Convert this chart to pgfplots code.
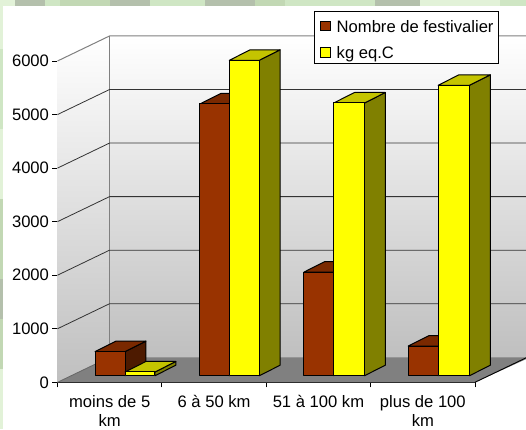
\documentclass[border=0pt]{standalone}
\usepackage{pgfplots}
\pgfplotsset{compat=1.18}
\usepackage{fontspec}
\setmainfont{Liberation Sans}
\definecolor{brownF}{HTML}{993300}
\definecolor{brownT}{HTML}{7A2900}
\definecolor{brownS}{HTML}{4D1A00}
\definecolor{yelF}{HTML}{FFFF00}
\definecolor{yelT}{HTML}{C4C400}
\definecolor{yelS}{HTML}{808000}
\definecolor{bgG}{HTML}{CFE6C4}
\definecolor{bgP}{HTML}{E2F2D8}
\definecolor{bgD}{HTML}{B4C0AC}
\definecolor{bgM}{HTML}{C2D8B4}
\def\bdx{0.2}
\def\bdy{196}
\def\bbase{123}
\newcommand{\threedbar}[6]{%
  \addplot[draw=black,line width=1pt,fill=#5,line join=round,forget plot] coordinates {(#2,\bbase) (#2+\bdx,\bbase+\bdy) (#2+\bdx,\bbase+#3+\bdy) (#2,\bbase+#3)} --cycle;
  \addplot[draw=black,line width=1pt,fill=#6,line join=round,forget plot] coordinates {(#1,\bbase+#3) (#1+\bdx,\bbase+#3+\bdy) (#2+\bdx,\bbase+#3+\bdy) (#2,\bbase+#3)} --cycle;
  \addplot[draw=black,line width=1pt,fill=#4,line join=round,forget plot] coordinates {(#1,\bbase) (#2,\bbase) (#2,\bbase+#3) (#1,\bbase+#3)} --cycle;
}
\newcommand{\tseg}[3]{\fill[#3] (#1pt,423.4pt) rectangle (#2pt,429pt);}
\newcommand{\lseg}[3]{\fill[#3] (0pt,#1pt) rectangle (3pt,#2pt);}
\begin{document}
\begin{tikzpicture}
\useasboundingbox (0pt,0pt) rectangle (526pt,429pt);
\fill[white] (0pt,0pt) rectangle (526pt,429pt);
\tseg{0}{15}{bgP}\tseg{15}{45}{bgD}\tseg{45}{60}{bgG}\tseg{60}{110}{bgM}\tseg{110}{150}{bgD}
\tseg{150}{205}{bgG}\tseg{205}{255}{bgD}\tseg{255}{285}{bgM}\tseg{285}{375}{bgG}\tseg{375}{420}{bgD}
\tseg{420}{500}{bgP}\tseg{500}{526}{bgG}
\lseg{0}{60}{bgP}\lseg{60}{110}{bgM}\lseg{110}{150}{bgD}\lseg{150}{230}{bgM}\lseg{230}{300}{bgP}\lseg{300}{380}{bgG}\lseg{380}{429}{bgP}
\begin{axis}[
  at={(57.5pt,46.7pt)}, anchor=south west,
  scale only axis, width=417.5pt, height=321.3pt,
  xmin=0, xmax=4, ymin=0, ymax=6000,
  clip=false,
  axis y line*=left, axis x line*=bottom,
  axis line style={black,line width=0.9pt,-},
  xtick={0,1,2,3,4}, xticklabels={},
  ytick={0,1000,2000,3000,4000,5000,6000},
  tick style={black,line width=0.9pt},
  tick align=outside,
  major tick length=5pt,
  tick label style={font=\fontsize{16.6}{20}\selectfont},
  /pgf/number format/assume math mode=true,
  /pgf/number format/1000 sep={},
]
\addplot[draw=none,top color=white,bottom color=white!75!black,forget plot] coordinates {(0,6000) (0.498,6467) (0.498,467) (0,0)} --cycle;
\addplot[draw=none,top color=white,bottom color=white!75!black,forget plot] coordinates {(0.498,6467) (4.5,6467) (4.5,467) (0.498,467)} --cycle;
\addplot[draw=none,fill=black!50,forget plot] coordinates {(0,0) (0.498,467) (4.5,467) (4.5,442) (4,0)} --cycle;
\addplot[black!50,line width=1pt,forget plot] coordinates {(0,6000) (0.498,6467) (4.5,6467)};
\addplot[black!50,line width=1pt,forget plot] coordinates {(0.498,467) (0.498,6467)};
\addplot[black!80,line width=0.8pt,forget plot] coordinates {(0,5000) (0.498,5467) (4.5,5467)};
\addplot[black!80,line width=0.8pt,forget plot] coordinates {(0,4000) (0.498,4467) (4.5,4467)};
\addplot[black!80,line width=0.8pt,forget plot] coordinates {(0,3000) (0.498,3467) (4.5,3467)};
\addplot[black!80,line width=0.8pt,forget plot] coordinates {(0,2000) (0.498,2467) (4.5,2467)};
\addplot[black!80,line width=0.8pt,forget plot] coordinates {(0,1000) (0.498,1467) (4.5,1467)};
\addplot[black!60,line width=0.8pt,forget plot] coordinates {(0,0) (0.498,467)};
\addplot[black,line width=0.9pt,forget plot] coordinates {(4,0) (4.5,467)};
\threedbar{0.360}{0.647}{450}{brownF}{brownS}{brownT}
\threedbar{0.647}{0.934}{70}{yelF}{yelS}{yelT}
\threedbar{1.365}{1.646}{5075}{brownF}{brownS}{brownT}
\threedbar{1.646}{1.933}{5890}{yelF}{yelS}{yelT}
\threedbar{2.361}{2.646}{1935}{brownF}{brownS}{brownT}
\threedbar{2.646}{2.941}{5093}{yelF}{yelS}{yelT}
\threedbar{3.360}{3.647}{554}{brownF}{brownS}{brownT}
\threedbar{3.647}{3.947}{5424}{yelF}{yelS}{yelT}
\node[font=\fontsize{16.6}{20}\selectfont,align=center,anchor=north,inner sep=0pt] at (axis cs:0.5,-240) {moins de 5\\[-0.5pt]km};
\node[font=\fontsize{16.6}{20}\selectfont,align=center,anchor=north,inner sep=0pt] at (axis cs:1.5,-240) {6 à 50 km};
\node[font=\fontsize{16.6}{20}\selectfont,align=center,anchor=north,inner sep=0pt] at (axis cs:2.5,-240) {51 à 100 km};
\node[font=\fontsize{16.6}{20}\selectfont,align=center,anchor=north,inner sep=0pt] at (axis cs:3.5,-240) {plus de 100\\[-0.5pt]km};
\end{axis}
\draw[black,line width=0.9pt,fill=white] (314.7pt,365.7pt) rectangle (498pt,417.7pt);
\filldraw[fill=brownF,draw=black,line width=0.8pt] (320.8pt,398.3pt) rectangle (330.8pt,408pt);
\filldraw[fill=yelF,draw=black,line width=0.8pt] (320.8pt,372pt) rectangle (330.8pt,381.5pt);
\node[anchor=base west,inner sep=0pt,font=\fontsize{16.6}{20}\selectfont] at (336.5pt,396.7pt) {Nombre de festivalier};
\node[anchor=base west,inner sep=0pt,font=\fontsize{16.6}{20}\selectfont] at (336.5pt,370.7pt) {kg eq.C};
\end{tikzpicture}
\end{document}
